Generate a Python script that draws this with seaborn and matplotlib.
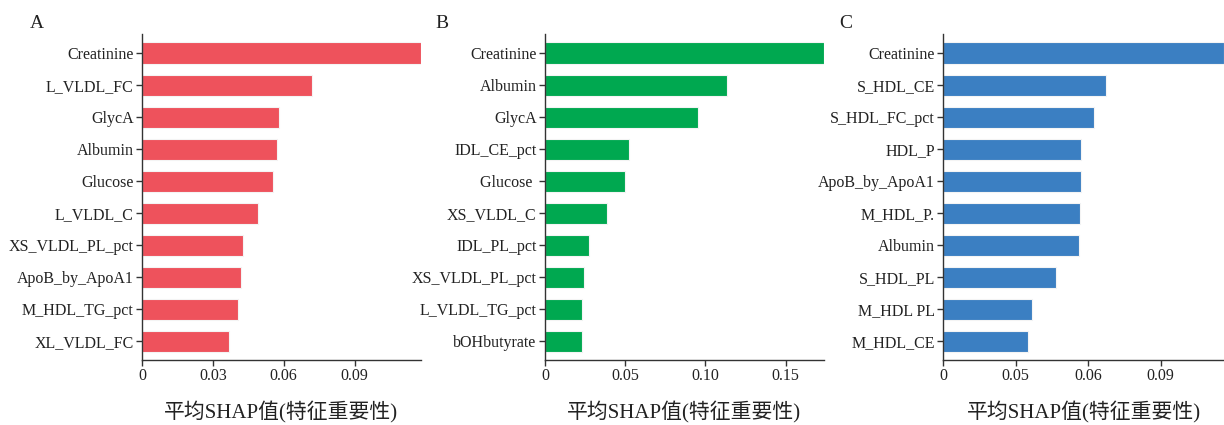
import matplotlib
matplotlib.use("Agg")
import matplotlib.pyplot as plt
import seaborn as sns
import pandas as pd

# Mean |SHAP| per feature for three models
features_a = ["Creatinine", "L_VLDL_FC", "GlycA", "Albumin", "Glucose", "L_VLDL_C",
              "XS_VLDL_PL_pct", "ApoB_by_ApoA1", "M_HDL_TG_pct", "XL_VLDL_FC"]
values_a = [0.1179, 0.0718, 0.0578, 0.0571, 0.0554, 0.0491, 0.0429, 0.0419, 0.0408, 0.0369]

features_b = ["Creatinine", "Albumin", "GlycA", "IDL_CE_pct", "Glucose ", "XS_VLDL_C",
              "IDL_PL_pct", "XS_VLDL_PL_pct", "L_VLDL_TG_pct", "bOHbutyrate"]
values_b = [0.1737, 0.1135, 0.0954, 0.0522, 0.0499, 0.0385, 0.0272, 0.0241, 0.0233, 0.0229]

features_c = ["Creatinine", "S_HDL_CE", "S_HDL_FC_pct", "HDL_P", "ApoB_by_ApoA1", "M_HDL_P.",
              "Albumin", "S_HDL_PL", "M_HDL PL", "M_HDL_CE"]
values_c = [0.1165, 0.0676, 0.0626, 0.0572, 0.0571, 0.0568, 0.0563, 0.0465, 0.0368, 0.0349]

tick_pos_a = [0, 0.03, 0.06, 0.09]
tick_lab_a = ["0", "0.03", "0.06", "0.09"]
tick_pos_b = [0, 0.05, 0.10, 0.15]
tick_lab_b = ["0", "0.05", "0.10", "0.15"]
tick_pos_c = [0, 0.03, 0.06, 0.09]
tick_lab_c = ["0", "0.05", "0.06", "0.09"]

panel_letters = ["A", "B", "C"]
colors = ["#EE525C", "#00A850", "#3B7FC2"]
xlabel = "平均SHAP值(特征重要性)"

sns.set_style("ticks")
plt.rcParams["font.family"] = ["Liberation Serif", "Noto Sans CJK SC"]
plt.rcParams["axes.edgecolor"] = "#333333"
plt.rcParams["axes.linewidth"] = 1.0

W, H = 1224, 425
fig = plt.figure(figsize=(W / 100, H / 100), dpi=100)

# axes extents in pixels: (left, right)
extents = [(142, 420.5), (545, 823.7), (943.3, 1224)]
top_px, bottom_px = 34, 360
xmaxs = [0.1179, 0.1737, 0.1163]

panels = [
    (features_a, values_a, tick_pos_a, tick_lab_a),
    (features_b, values_b, tick_pos_b, tick_lab_b),
    (features_c, values_c, tick_pos_c, tick_lab_c),
]
letter_x = [37, 442, 846]

for i, ((feats, vals, tpos, tlab), (l, r)) in enumerate(zip(panels, extents)):
    ax = fig.add_axes([l / W, 1 - bottom_px / H, (r - l) / W, (bottom_px - top_px) / H])
    df = pd.DataFrame({"feature": feats, "value": vals})
    sns.barplot(data=df, x="value", y="feature", orient="h", color=colors[i],
                width=0.67, edgecolor="#f4f4f4", linewidth=0.8, saturation=1, ax=ax)
    ax.set_ylim(9.58, -0.6)
    ax.set_xlim(0, xmaxs[i])
    ax.set_xticks(tpos)
    ax.set_xticklabels(tlab)
    ax.set_ylabel("")
    ax.set_xlabel(xlabel, fontsize=15, labelpad=12, color="#222222")
    ax.tick_params(axis="both", labelsize=11.5, colors="#333333", labelcolor="#222222",
                   length=4, width=1.0, pad=2)
    sns.despine(ax=ax)
    fig.text(letter_x[i] / W, 1 - 23 / H, panel_letters[i], fontsize=14,
             ha="center", va="center", color="#222222")

fig.savefig("out.png", dpi=100)
